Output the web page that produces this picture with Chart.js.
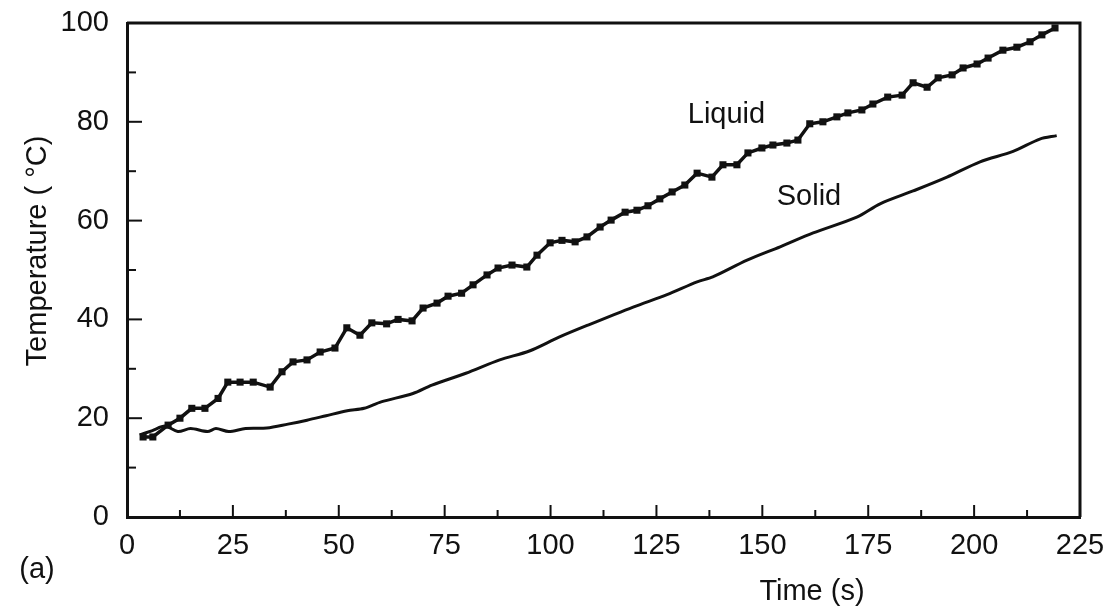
<!DOCTYPE html>
<html>
<head>
<meta charset="utf-8">
<script src="https://cdn.jsdelivr.net/npm/chart.js@4"></script>
<style>
  html, body { margin: 0; padding: 0; background: #fff; }
  #wrap { width: 1104px; height: 613px; }
</style>
</head>
<body>
<div id="wrap"><canvas id="chart" width="1104" height="613"></canvas></div>
<script>
// Liquid series (square markers), time in s, temperature in °C
const liquidTime = [3.8, 6.1, 9.7, 12.5, 15.3, 18.4, 21.5, 23.8, 26.7, 29.8, 33.8, 36.6, 39.2, 42.5, 45.6, 49.1, 51.9, 55, 57.8, 61.3, 64, 67.3, 69.9, 73.2, 75.8, 79, 81.7, 85, 87.6, 90.9, 94.4, 96.8, 99.9, 102.7, 105.8, 108.6, 111.7, 114.3, 117.6, 120.4, 123, 125.8, 128.7, 131.7, 134.6, 138.1, 140.7, 144, 146.6, 149.9, 152.5, 155.8, 158.4, 161.2, 164.3, 167.6, 170.2, 173.5, 176.1, 179.6, 183, 185.6, 188.9, 191.5, 194.8, 197.4, 200.7, 203.3, 206.8, 210.1, 213.2, 216, 219.1];
const liquidTemp = [16.2, 16.2, 18.6, 20, 22, 22, 24, 27.3, 27.3, 27.3, 26.3, 29.4, 31.4, 31.8, 33.4, 34.2, 38.3, 36.8, 39.3, 39.1, 40, 39.7, 42.3, 43.3, 44.7, 45.3, 47, 49, 50.4, 51, 50.6, 53, 55.5, 56, 55.7, 56.7, 58.7, 60.1, 61.7, 62.1, 63, 64.4, 65.8, 67.2, 69.6, 68.8, 71.3, 71.3, 73.7, 74.7, 75.3, 75.7, 76.3, 79.6, 80, 81, 81.8, 82.4, 83.6, 85, 85.4, 87.9, 87, 88.9, 89.5, 90.9, 91.7, 92.9, 94.5, 95.1, 96.2, 97.6, 99];

// Solid series (plain line)
const solidTime = [3, 6, 9, 12, 15, 19, 21, 24, 28, 33, 38, 42.5, 47, 52, 56, 60, 67.5, 72, 80, 88, 95, 102, 109, 119.5, 127.5, 134.6, 138.3, 146.4, 154.2, 162, 172.3, 177.8, 185.6, 193.6, 201.4, 209.2, 215.5, 219.5];
const solidTemp = [16.6, 17.5, 18.4, 17.3, 17.9, 17.3, 17.9, 17.3, 17.9, 18, 18.8, 19.6, 20.5, 21.5, 22, 23.3, 25, 26.7, 29.1, 31.8, 33.6, 36.4, 38.9, 42.5, 45, 47.6, 48.6, 52, 54.7, 57.5, 60.7, 63.4, 66, 68.8, 71.9, 74, 76.5, 77.2];

const xTicks = [0, 25, 50, 75, 100, 125, 150, 175, 200, 225];
const yTicks = [0, 20, 40, 60, 80, 100];

const FONT = '"Liberation Sans", Arial, Helvetica, sans-serif';
const INK = '#111';

const toPoints = (xs, ys) => xs.map((x, i) => ({ x: x, y: ys[i] }));

// frame, inward ticks and free text labels
const overlay = {
    id: 'overlay',
    afterDraw(chart) {
        const ctx = chart.ctx;
        const area = chart.chartArea;
        const xs = chart.scales.x;
        const ys = chart.scales.y;
        ctx.save();
        ctx.strokeStyle = INK;

        // top and right side of the box
        ctx.lineWidth = 3;
        ctx.beginPath();
        ctx.moveTo(area.left, area.top);
        ctx.lineTo(area.right, area.top);
        ctx.lineTo(area.right, area.bottom);
        ctx.stroke();

        // x ticks, major every 25, minor between
        ctx.lineWidth = 2;
        for (let v = 12.5; v < 225; v += 12.5) {
            const px = xs.getPixelForValue(v);
            const len = (v % 25 === 0) ? 12 : 7;
            ctx.beginPath();
            ctx.moveTo(px, area.bottom);
            ctx.lineTo(px, area.bottom - len);
            ctx.stroke();
        }
        // y ticks, major every 20, minor every 10
        for (let v = 10; v < 100; v += 10) {
            const py = ys.getPixelForValue(v);
            const len = (v % 20 === 0) ? 15 : 9;
            ctx.beginPath();
            ctx.moveTo(area.left, py);
            ctx.lineTo(area.left + len, py);
            ctx.stroke();
        }

        ctx.fillStyle = INK;
        ctx.font = '29px ' + FONT;
        ctx.textBaseline = 'alphabetic';
        ctx.textAlign = 'left';
        ctx.fillText('Liquid', xs.getPixelForValue(132.4), ys.getPixelForValue(79.8));
        ctx.fillText('Solid', xs.getPixelForValue(153.4), ys.getPixelForValue(63.2));

        // axis titles and panel mark
        ctx.textAlign = 'center';
        ctx.textBaseline = 'middle';
        ctx.fillText('Time (s)', 812, 592);
        ctx.fillText('(a)', 37, 570);

        ctx.translate(38, 251);
        ctx.rotate(-Math.PI / 2);
        ctx.fillText('Temperature ( °C)', 0, 0);
        ctx.restore();
    }
};

new Chart(document.getElementById('chart').getContext('2d'), {
    type: 'line',
    data: {
        datasets: [
            {
                label: 'Liquid',
                data: toPoints(liquidTime, liquidTemp),
                borderColor: INK,
                backgroundColor: INK,
                borderWidth: 3.5,
                pointStyle: 'rect',
                pointRadius: 5,
                pointBorderWidth: 0,
                tension: 0
            },
            {
                label: 'Solid',
                data: toPoints(solidTime, solidTemp),
                borderColor: INK,
                borderWidth: 3,
                pointRadius: 0,
                tension: 0.3
            }
        ]
    },
    options: {
        responsive: false,
        animation: false,
        layout: { padding: { left: 0, top: 23, right: 24, bottom: 0 } },
        plugins: {
            legend: { display: false },
            tooltip: { enabled: false }
        },
        scales: {
            x: {
                type: 'linear',
                min: 0,
                max: 225,
                afterBuildTicks: (scale) => { scale.ticks = xTicks.map(v => ({ value: v })); },
                afterFit: (scale) => {
                    scale.height = 96;
                    scale.paddingLeft = 0;
                    scale.paddingRight = 0;
                },
                grid: { display: false, drawTicks: false },
                border: { display: true, color: INK, width: 3 },
                ticks: {
                    color: INK,
                    padding: 12,
                    maxRotation: 0,
                    font: { family: FONT, size: 29 }
                }
            },
            y: {
                type: 'linear',
                min: 0,
                max: 100,
                afterBuildTicks: (scale) => { scale.ticks = yTicks.map(v => ({ value: v })); },
                afterFit: (scale) => {
                    scale.width = 127;
                    scale.paddingTop = 0;
                    scale.paddingBottom = 0;
                },
                grid: { display: false, drawTicks: false },
                border: { display: true, color: INK, width: 3 },
                ticks: {
                    color: INK,
                    padding: 18,
                    font: { family: FONT, size: 29 }
                }
            }
        }
    },
    plugins: [overlay]
});
</script>
</body>
</html>
